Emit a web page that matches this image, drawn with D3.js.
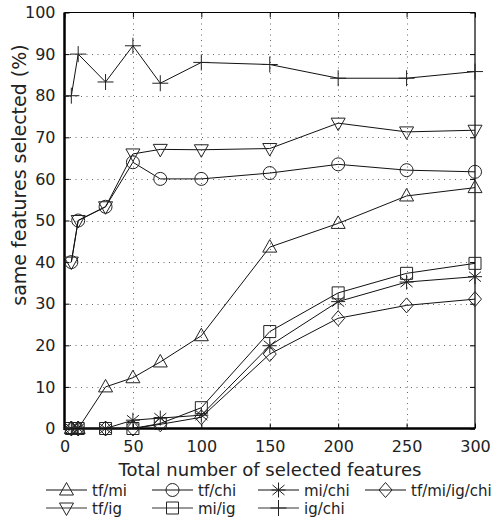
<!DOCTYPE html>
<html>
<head>
<meta charset="utf-8">
<script src="https://cdn.jsdelivr.net/npm/d3@7"></script>
<style>
  body { margin: 0; background: #fff; }
  svg { display: block; font-family: "DejaVu Sans", sans-serif; }
</style>
</head>
<body>
<svg id="chart" width="494" height="520"></svg>
<script>
//Data
const featureCounts = [5, 10, 30, 50, 70, 100, 150, 200, 250, 300];
const tfMi      = [0, 0, 10, 12.2, 16, 22.3, 43.6, 49.3, 55.9, 57.9];
const tfChi     = [40, 50, 53.3, 64, 60, 60, 61.4, 63.5, 62.1, 61.7];
const miChi     = [0, 0, 0, 2, 2.5, 3.2, 19.9, 30.5, 35.2, 36.5];
const tfMiIgChi = [0, 0, 0, 0, 1, 2.7, 17.9, 26.5, 29.6, 31.1];
const tfIg      = [40, 50, 53.3, 66, 67.1, 67, 67.3, 73.4, 71.3, 71.7];
const miIg      = [0, 0, 0, 0, 1.2, 5, 23.3, 32.6, 37.3, 39.7];
const igChi     = [80, 90, 83.3, 92, 83, 88, 87.5, 84.2, 84.2, 85.8];

const xTicks = [0, 50, 100, 150, 200, 250, 300];
const yTicks = [0, 10, 20, 30, 40, 50, 60, 70, 80, 90, 100];

const series = [
    { name: "tf/mi", values: tfMi, marker: "triUp" },
    { name: "tf/chi", values: tfChi, marker: "circle" },
    { name: "mi/chi", values: miChi, marker: "star" },
    { name: "tf/mi/ig/chi", values: tfMiIgChi, marker: "diamond" },
    { name: "tf/ig", values: tfIg, marker: "triDown" },
    { name: "mi/ig", values: miIg, marker: "square" },
    { name: "ig/chi", values: igChi, marker: "plus" }
];

//Plot box (px)
const plotLeft = 64.5, plotRight = 475, plotTop = 12.5, plotBottom = 428.5;

const svg = d3.select("#chart");

const xScale = d3.scaleLinear().domain([0, 300]).range([plotLeft, plotRight]);
const yScale = d3.scaleLinear().domain([0, 100]).range([plotBottom, plotTop]);

//Marker paths, centred on 0,0
function markerPath(type) {
    const p = d3.path();
    if (type === "triUp") {
        p.moveTo(0, -7.5); p.lineTo(7, 5); p.lineTo(-7, 5); p.closePath();
    } else if (type === "triDown") {
        p.moveTo(0, 7.5); p.lineTo(7, -5); p.lineTo(-7, -5); p.closePath();
    } else if (type === "circle") {
        p.moveTo(6.5, 0); p.arc(0, 0, 6.5, 0, Math.PI * 2);
    } else if (type === "square") {
        p.rect(-6, -6, 12, 12);
    } else if (type === "diamond") {
        p.moveTo(0, -7.5); p.lineTo(6.5, 0); p.lineTo(0, 7.5); p.lineTo(-6.5, 0); p.closePath();
    } else if (type === "plus") {
        p.moveTo(-8, 0); p.lineTo(8, 0); p.moveTo(0, -8); p.lineTo(0, 8);
    } else if (type === "star") {
        p.moveTo(0, -7.5); p.lineTo(0, 7.5);
        p.moveTo(-6, -5); p.lineTo(6, 5);
        p.moveTo(-6, 5); p.lineTo(6, -5);
        p.moveTo(-7, 0); p.lineTo(7, 0);
    }
    return p.toString();
}

//Grid (dotted)
const grid = svg.append("g").attr("stroke", "#666").attr("stroke-width", 1).attr("stroke-dasharray", "1,4.5");
grid.selectAll("line.gx").data(xTicks.slice(1, -1)).enter().append("line")
    .attr("x1", (d) => Math.round(xScale(d)) + 0.5).attr("x2", (d) => Math.round(xScale(d)) + 0.5)
    .attr("y1", plotTop).attr("y2", plotBottom);
grid.selectAll("line.gy").data(yTicks.slice(1, -1)).enter().append("line")
    .attr("y1", (d) => Math.round(yScale(d)) + 0.5).attr("y2", (d) => Math.round(yScale(d)) + 0.5)
    .attr("x1", plotLeft).attr("x2", plotRight);

//Axes with inward ticks
const xAxis = svg.append("g").attr("transform", `translate(0,${plotBottom})`)
    .call(d3.axisBottom(xScale).tickValues(xTicks).tickSizeInner(-5).tickSizeOuter(0).tickPadding(12));
const yAxis = svg.append("g").attr("transform", `translate(${plotLeft},0)`)
    .call(d3.axisLeft(yScale).tickValues(yTicks).tickSizeInner(-5).tickSizeOuter(0).tickPadding(9));
svg.append("g").attr("transform", `translate(0,${plotTop})`)
    .call(d3.axisTop(xScale).tickValues(xTicks).tickSizeInner(-5).tickSizeOuter(0).tickFormat(""));
svg.append("g").attr("transform", `translate(${plotRight},0)`)
    .call(d3.axisRight(yScale).tickValues(yTicks).tickSizeInner(-5).tickSizeOuter(0).tickFormat(""));

svg.selectAll(".domain").remove();
svg.selectAll(".tick line").attr("stroke", "#000");
[xAxis, yAxis].forEach((a) => a.selectAll("text").attr("font-size", 16).attr("fill", "#222").attr("font-family", "DejaVu Sans"));

//Frame: thick left & bottom, thin top & right
svg.append("line").attr("x1", plotLeft).attr("x2", plotLeft).attr("y1", plotTop).attr("y2", plotBottom + 1.5)
    .attr("stroke", "#000").attr("stroke-width", 2.5);
svg.append("line").attr("x1", plotLeft).attr("x2", plotRight).attr("y1", plotBottom).attr("y2", plotBottom)
    .attr("stroke", "#000").attr("stroke-width", 2.5);
svg.append("line").attr("x1", plotLeft).attr("x2", plotRight).attr("y1", plotTop).attr("y2", plotTop)
    .attr("stroke", "#000").attr("stroke-width", 1);
svg.append("line").attr("x1", plotRight).attr("x2", plotRight).attr("y1", plotTop).attr("y2", plotBottom)
    .attr("stroke", "#000").attr("stroke-width", 1.2);

//Lines and markers
const line = d3.line().x((d, i) => xScale(featureCounts[i])).y((d) => yScale(d));
series.forEach((s) => {
    svg.append("path").attr("d", line(s.values))
        .attr("fill", "none").attr("stroke", "#111").attr("stroke-width", 1);
    svg.append("g").selectAll("path").data(s.values).enter().append("path")
        .attr("transform", (d, i) => `translate(${xScale(featureCounts[i])},${yScale(d)})`)
        .attr("d", markerPath(s.marker))
        .attr("fill", "none").attr("stroke", "#222").attr("stroke-width", 1);
});

//Axis titles
svg.append("text").attr("x", 270).attr("y", 476).attr("text-anchor", "middle")
    .attr("font-size", 18).attr("fill", "#222").text("Total number of selected features");
svg.append("text").attr("transform", "translate(26,175) rotate(-90)").attr("text-anchor", "middle")
    .attr("font-size", 19).attr("fill", "#222").text("same features selected (%)");

//Legend (4 columns, 2 rows)
const legendCols = [46, 152, 258, 365];
const legendRows = [490, 508];
series.forEach((s, i) => {
    const col = i % 4, row = Math.floor(i / 4);
    const x0 = legendCols[col], y0 = legendRows[row];
    const lineLen = 41;
    const g = svg.append("g").attr("transform", `translate(${x0},${y0})`);
    g.append("line").attr("x1", 0).attr("x2", lineLen).attr("y1", 0).attr("y2", 0)
        .attr("stroke", row === 0 ? "#111" : "#777").attr("stroke-width", row === 0 ? 1 : 1.6);
    g.append("path").attr("transform", `translate(${lineLen / 2},0)`)
        .attr("d", markerPath(s.marker)).attr("fill", "none").attr("stroke", "#222").attr("stroke-width", 1);
    g.append("text").attr("x", lineLen + 5).attr("y", 6).attr("font-size", 15).attr("fill", "#222").text(s.name);
});
</script>
</body>
</html>
